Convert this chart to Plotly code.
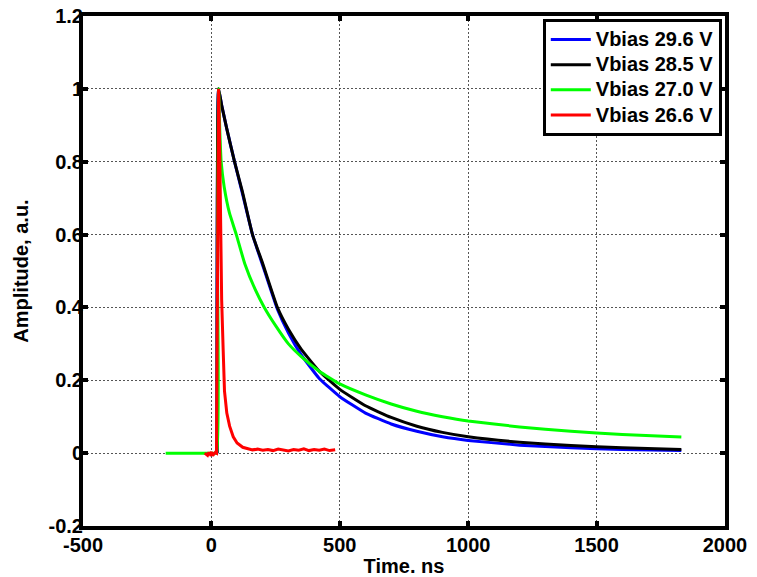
import plotly.graph_objects as go

# Vbias 29.6 V (blue)
t_blue = [22, 28, 40, 60, 90, 120, 160, 200, 257, 300, 350, 420, 500, 600, 700,
          800, 900, 1000, 1200, 1400, 1600, 1830]
a_blue = [0.0, 1.0, 0.955, 0.89, 0.80, 0.715, 0.60, 0.515, 0.395, 0.33, 0.27, 0.205,
          0.155, 0.11, 0.08, 0.06, 0.045, 0.035, 0.022, 0.015, 0.01, 0.007]

# Vbias 28.5 V (black)
t_black = [22, 28, 40, 60, 90, 120, 160, 200, 257, 300, 350, 420, 500, 600, 700,
           800, 900, 1000, 1200, 1400, 1600, 1830]
a_black = [0.0, 1.0, 0.955, 0.89, 0.80, 0.72, 0.60, 0.52, 0.40, 0.34, 0.285, 0.225,
           0.175, 0.13, 0.098, 0.074, 0.057, 0.045, 0.03, 0.021, 0.015, 0.01]

# Vbias 27.0 V (green)
t_green = [-178, -100, 0, 20, 24, 28, 33, 38, 50, 70, 97, 130, 170, 206, 250, 300,
           350, 420, 500, 600, 700, 800, 900, 1000, 1200, 1400, 1600, 1830]
a_green = [0.0, 0.0, 0.0, 0.0, 0.5, 1.0, 0.88, 0.80, 0.73, 0.66, 0.60, 0.52, 0.45,
           0.40, 0.35, 0.30, 0.265, 0.225, 0.19, 0.16, 0.135, 0.115, 0.10, 0.088,
           0.072, 0.06, 0.051, 0.044]

# Vbias 26.6 V (red)
t_red = [-26, -20, -15, -10, -5, 0, 5, 10, 15, 20, 24, 28, 32, 36, 40, 46, 51, 60,
         71, 85, 100, 122, 140, 160, 180, 200, 220, 240, 260, 280, 300, 320, 340,
         360, 380, 400, 420, 440, 460, 482]
a_red = [0.0, -0.004, -0.006, 0.002, -0.003, 0.003, -0.007, -0.002, 0.002, 0.0,
         0.5, 1.0, 0.85, 0.6, 0.42, 0.28, 0.17, 0.11, 0.074, 0.045, 0.028, 0.016,
         0.012, 0.009, 0.011, 0.008, 0.01, 0.007, 0.011, 0.009, 0.006, 0.01, 0.008,
         0.012, 0.007, 0.01, 0.008, 0.011, 0.007, 0.009]

x_ticks = [-500, 0, 500, 1000, 1500, 2000]
x_tick_labels = ["-500", "0", "500", "1000", "1500", "2000"]
y_ticks = [-0.2, 0, 0.2, 0.4, 0.6, 0.8, 1.0, 1.2]
y_tick_labels = ["-0.2", "0", "0.2", "0.4", "0.6", "0.8", "1", "1.2"]

font_family = "Liberation Sans, Arial"

fig = go.Figure()
series = [
    ("Vbias 29.6 V", t_blue, a_blue, "#0000ff", "spline"),
    ("Vbias 28.5 V", t_black, a_black, "#000000", "spline"),
    ("Vbias 27.0 V", t_green, a_green, "#00ff00", "spline"),
    ("Vbias 26.6 V", t_red, a_red, "#ff0000", "linear"),
]
for name, t, a, color, shape in series:
    # bigger text inside a smaller legend font keeps the rows tight
    fig.add_trace(go.Scatter(x=t, y=a, mode="lines",
                             name='<span style="font-size:20px">' + name + '</span>',
                             line=dict(color=color, width=3, shape=shape,
                                       smoothing=0.4 if shape == "spline" else None)))

axis_common = dict(
    showline=True, linewidth=4, linecolor="black", mirror="allticks",
    ticks="inside", ticklen=5, tickwidth=4, tickcolor="black",
    showgrid=True, gridcolor="#555", gridwidth=1, griddash="2px,2px",
    zeroline=False, automargin=False, ticklabeloverflow="allow",
    tickfont=dict(family=font_family, size=20, color="black", weight="bold"),
)

fig.update_xaxes(range=[-500, 2000], tickvals=x_ticks, ticktext=x_tick_labels,
                 ticklabelstandoff=-2,
                 title=dict(text="Time. ns", standoff=6,
                            font=dict(family=font_family, size=20,
                                      color="black", weight="bold")),
                 **axis_common)
fig.update_yaxes(range=[-0.2, 1.2], tickvals=y_ticks, ticktext=y_tick_labels,
                 ticklabelstandoff=-8,
                 title=dict(text="Amplitude, a.u.", standoff=16,
                            font=dict(family=font_family, size=20,
                                      color="black", weight="bold")),
                 **axis_common)

fig.update_layout(
    width=757, height=577,
    margin=dict(l=83, r=32, t=16, b=51),
    plot_bgcolor="white", paper_bgcolor="white",
    legend=dict(x=0.995, y=0.994, xanchor="right", yanchor="top",
                bgcolor="white", bordercolor="black", borderwidth=3,
                font=dict(family=font_family, size=17,
                          color="black", weight="bold"),
                tracegroupgap=0, itemwidth=40),
    showlegend=True,
)

# drop the default page margin so the figure sits at the window's corner
fig.write_html("out.html", config={"displayModeBar": False},
               post_script="document.body.style.margin = '0';")
